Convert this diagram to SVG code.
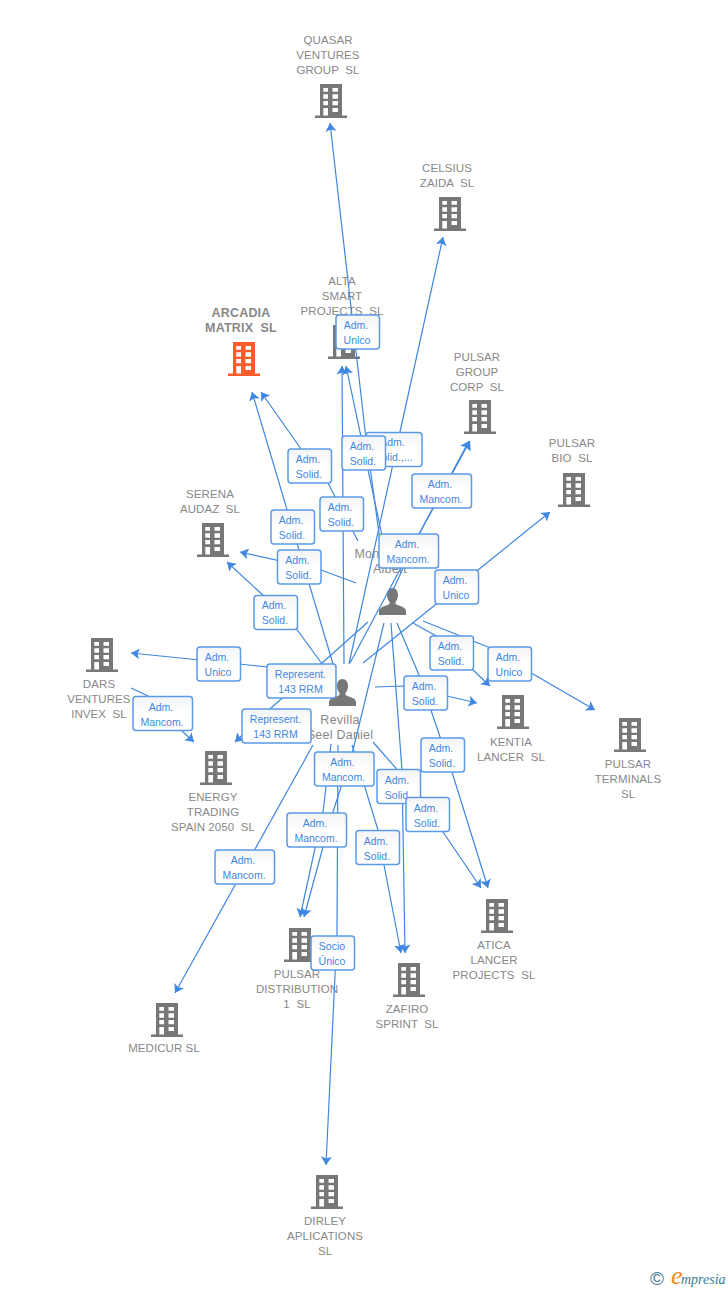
<svg xmlns="http://www.w3.org/2000/svg" width="728" height="1290" viewBox="0 0 728 1290">
<style>
text{font-family:"Liberation Sans",Arial,sans-serif;white-space:pre}
.n{font-size:11.5px;letter-spacing:.08px;fill:#888;text-anchor:middle}
.b{font-size:12.5px;letter-spacing:.2px;font-weight:bold;fill:#888;text-anchor:middle}
.p{font-size:12.5px;letter-spacing:.25px;fill:#888;text-anchor:middle}
.c polyline{fill:none;stroke:#3f87e0;stroke-width:1.2;marker-end:url(#a)}
.l rect{fill:url(#g);stroke:#5b9ae8;stroke-width:1.5}
.l text{font-size:10.5px;fill:#3f87e0;text-anchor:middle}
</style>
<defs>
<linearGradient id="g" x1="0" y1="0" x2="0" y2="1"><stop offset="0" stop-color="#f3f4f6"/><stop offset="0.5" stop-color="#fff"/></linearGradient>
<marker id="a" markerUnits="userSpaceOnUse" markerWidth="12" markerHeight="13" refX="8.500" refY="6" orient="auto"><path d="M8.500,6 L0,0.500 L2,6 L0,11.500z" fill="#3f87e0"/></marker>
<path id="bld" fill-rule="evenodd" d="M5,0H27V31.5H32V34H0V31.5H5ZM8.3,4V7.8H13V4ZM17.5,4V7.8H23V4ZM8.3,10.3V14.7H13V10.3ZM17.5,10.3V14.7H23V10.3ZM8.3,17V21.3H13V17ZM17.5,17V21.3H23V17ZM8.3,24V31.5H13V24ZM17.5,24V28H23V24Z"/>
<path id="per" d="M13.5,0C10,0 8,3 8,7C8,10 9.3,12.5 10.5,14L10.5,16C7,18 0,19 0,23V27H27V23C27,19 20,18 16.5,16L16.5,14C17.7,12.5 19,10 19,7C19,3 17,0 13.5,0Z"/>
</defs>

<g id="node-quasar" fill="#777"><use href="#bld" x="315" y="84"/><text class="n" x="328" y="44">QUASAR</text><text class="n" x="328" y="59">VENTURES</text><text class="n" x="328" y="74">GROUP  SL</text></g>
<g id="node-celsius" fill="#777"><use href="#bld" x="434" y="197"/><text class="n" x="447" y="172">CELSIUS</text><text class="n" x="447" y="187">ZAIDA  SL</text></g>
<g id="node-alta" fill="#777"><use href="#bld" x="328" y="325"/><text class="n" x="342" y="285">ALTA</text><text class="n" x="342" y="300">SMART</text><text class="n" x="342" y="315">PROJECTS  SL</text></g>
<g id="node-arcadia" fill="#ff5c2e"><use href="#bld" x="228" y="342"/><text class="b" x="241" y="317">ARCADIA</text><text class="b" x="241" y="332">MATRIX  SL</text></g>
<g id="node-pulsar-group" fill="#777"><use href="#bld" x="464" y="400"/><text class="n" x="477" y="361">PULSAR</text><text class="n" x="477" y="376">GROUP</text><text class="n" x="477" y="391">CORP  SL</text></g>
<g id="node-pulsar-bio" fill="#777"><use href="#bld" x="558" y="473"/><text class="n" x="572" y="447">PULSAR</text><text class="n" x="572" y="462">BIO  SL</text></g>
<g id="node-serena" fill="#777"><use href="#bld" x="197" y="523"/><text class="n" x="210" y="498">SERENA</text><text class="n" x="210" y="513">AUDAZ  SL</text></g>
<g id="node-dars" fill="#777"><use href="#bld" x="86" y="638"/><text class="n" x="99" y="688">DARS</text><text class="n" x="99" y="703">VENTURES</text><text class="n" x="99" y="718">INVEX  SL</text></g>
<g id="node-energy" fill="#777"><use href="#bld" x="200" y="751"/><text class="n" x="213" y="801">ENERGY</text><text class="n" x="213" y="816">TRADING</text><text class="n" x="213" y="831">SPAIN 2050  SL</text></g>
<g id="node-kentia" fill="#777"><use href="#bld" x="497" y="695"/><text class="n" x="511" y="746">KENTIA</text><text class="n" x="511" y="761">LANCER  SL</text></g>
<g id="node-terminals" fill="#777"><use href="#bld" x="614" y="718"/><text class="n" x="628" y="768">PULSAR</text><text class="n" x="628" y="783">TERMINALS</text><text class="n" x="628" y="798">SL</text></g>
<g id="node-atica" fill="#777"><use href="#bld" x="481" y="899"/><text class="n" x="494" y="949">ATICA</text><text class="n" x="494" y="964">LANCER</text><text class="n" x="494" y="979">PROJECTS  SL</text></g>
<g id="node-zafiro" fill="#777"><use href="#bld" x="393" y="963"/><text class="n" x="407" y="1013">ZAFIRO</text><text class="n" x="407" y="1028">SPRINT  SL</text></g>
<g id="node-pulsar-dist" fill="#777"><use href="#bld" x="284" y="928"/><text class="n" x="297" y="978">PULSAR</text><text class="n" x="297" y="993">DISTRIBUTION</text><text class="n" x="297" y="1008">1  SL</text></g>
<g id="node-medicur" fill="#777"><use href="#bld" x="151" y="1003"/><text class="n" x="164" y="1052">MEDICUR SL</text></g>
<g id="node-dirley" fill="#777"><use href="#bld" x="311" y="1175"/><text class="n" x="325" y="1225">DIRLEY</text><text class="n" x="325" y="1240">APLICATIONS</text><text class="n" x="325" y="1255">SL</text></g>
<g id="person-monzon" fill="#777"><use href="#per" x="379" y="588"/><text class="p" x="367" y="558">Mon</text><text class="p" x="390" y="573">Albert</text></g>
<g id="person-revilla" fill="#777"><use href="#per" x="329" y="679"/><text class="p" x="340" y="724">Revilla</text><text class="p" x="340" y="739">Seel Daniel</text></g>

<g id="connectors" class="c">
<polyline points="381,548 365,430 330,123"/>
<polyline points="349,664 400,432 443,237"/>
<polyline points="344,664 342,366"/>
<polyline points="384,545 346,366"/>
<polyline points="333,664 252,392"/>
<polyline points="358,541 328,483 301,449 261,392"/>
<polyline points="356,583 321,570 240,552"/>
<polyline points="322,664 290,620 227,562"/>
<polyline points="325,680 268,667 200,660 131,653"/>
<polyline points="131,688 148,696 182,731 194,742"/>
<polyline points="368,622 322,663 271,708 235,742"/>
<polyline points="313,745 175,993"/>
<polyline points="331,744 323,812 300,917"/>
<polyline points="384,623 353,750 333,812 323,847 304,917"/>
<polyline points="338,745 337,933 326,1165"/>
<polyline points="352,745 378,830 384,865 401,953"/>
<polyline points="391,623 402,770 405,953"/>
<polyline points="397,623 419,675 452,772 488,888"/>
<polyline points="373,742 421,797 443,832 481,888"/>
<polyline points="375,687 404,686 447,696 477,703"/>
<polyline points="413,623 438,637 473,670 490,686"/>
<polyline points="423,621 488,647 533,674 595,710"/>
<polyline points="363,663 435,605 478,570 550,512"/>
<polyline points="350,663 419,534 469,441"/>
<polyline points="393,590 418,536 470,441"/>
</g>

<g id="labels" class="l">
<g><rect x="336" y="315" width="43.500" height="34" rx="3"/><text x="356" y="329">Adm.</text><text x="357" y="344">Unico</text></g>
<g><rect x="366" y="432.500" width="56" height="34" rx="3"/><text x="392.500" y="446">Adm.</text><text x="393.500" y="461">Solid.,...</text></g>
<g><rect x="342" y="436" width="43.500" height="34" rx="3"/><text x="362" y="450">Adm.</text><text x="363" y="465">Solid.</text></g>
<g><rect x="288" y="449" width="43.500" height="34" rx="3"/><text x="308" y="463">Adm.</text><text x="309" y="478">Solid.</text></g>
<g><rect x="412" y="474" width="59.500" height="34" rx="3"/><text x="440" y="488">Adm.</text><text x="441" y="503">Mancom.</text></g>
<g><rect x="320" y="497" width="43.500" height="34" rx="3"/><text x="340" y="511">Adm.</text><text x="341" y="526">Solid.</text></g>
<g><rect x="271" y="510" width="43.500" height="34" rx="3"/><text x="291" y="524">Adm.</text><text x="292" y="539">Solid.</text></g>
<g><rect x="379" y="534" width="59.500" height="34" rx="3"/><text x="407" y="548">Adm.</text><text x="408" y="563">Mancom.</text></g>
<g><rect x="277.500" y="550" width="43.500" height="34" rx="3"/><text x="297.500" y="564">Adm.</text><text x="298.500" y="579">Solid.</text></g>
<g><rect x="435" y="570" width="43.500" height="34" rx="3"/><text x="455" y="584">Adm.</text><text x="456" y="599">Unico</text></g>
<g><rect x="254" y="595.500" width="43.500" height="34" rx="3"/><text x="274" y="609">Adm.</text><text x="275" y="624">Solid.</text></g>
<g><rect x="430" y="636" width="43.500" height="34" rx="3"/><text x="450" y="650">Adm.</text><text x="451" y="665">Solid.</text></g>
<g><rect x="197" y="647" width="43.500" height="34" rx="3"/><text x="217" y="661">Adm.</text><text x="218" y="676">Unico</text></g>
<g><rect x="488" y="647" width="43.500" height="34" rx="3"/><text x="508" y="661">Adm.</text><text x="509" y="676">Unico</text></g>
<g><rect x="267" y="664" width="69" height="34" rx="3"/><text x="300.500" y="678">Represent.</text><text x="300.500" y="693">143 RRM</text></g>
<g><rect x="404" y="676" width="43.500" height="34" rx="3"/><text x="424" y="690">Adm.</text><text x="425" y="705">Solid.</text></g>
<g><rect x="133" y="696.500" width="59.500" height="34" rx="3"/><text x="161" y="711">Adm.</text><text x="162" y="726">Mancom.</text></g>
<g><rect x="242" y="709" width="69" height="34" rx="3"/><text x="275.500" y="723">Represent.</text><text x="275.500" y="738">143 RRM</text></g>
<g><rect x="421" y="738" width="43.500" height="34" rx="3"/><text x="441" y="752">Adm.</text><text x="442" y="767">Solid.</text></g>
<g><rect x="314.500" y="752" width="59.500" height="34" rx="3"/><text x="342.500" y="766">Adm.</text><text x="343.500" y="781">Mancom.</text></g>
<g><rect x="377" y="769.500" width="43.500" height="34" rx="3"/><text x="397" y="784">Adm.</text><text x="398" y="799">Solid.</text></g>
<g><rect x="406" y="797.500" width="43.500" height="34" rx="3"/><text x="426" y="812">Adm.</text><text x="427" y="827">Solid.</text></g>
<g><rect x="287" y="813" width="59.500" height="34" rx="3"/><text x="315" y="827">Adm.</text><text x="316" y="842">Mancom.</text></g>
<g><rect x="356" y="830.500" width="43.500" height="34" rx="3"/><text x="376" y="845">Adm.</text><text x="377" y="860">Solid.</text></g>
<g><rect x="215" y="850" width="59.500" height="34" rx="3"/><text x="243" y="864">Adm.</text><text x="244" y="879">Mancom.</text></g>
<g><rect x="311" y="936" width="43.500" height="34" rx="3"/><text x="332" y="950">Socio</text><text x="332" y="965">Único</text></g>
</g>

<g id="logo">
<text x="650" y="1285" font-size="19" style="font-family:'Liberation Sans',sans-serif;fill:#3f7a96">©</text>
<text x="671" y="1284" font-size="26" style="font-family:'Liberation Serif',serif;font-style:italic;fill:#f08a1d">e</text>
<text x="681" y="1284" font-size="14" style="font-family:'Liberation Serif',serif;font-style:italic;fill:#3a7d96">mpresia</text>
</g>
</svg>
